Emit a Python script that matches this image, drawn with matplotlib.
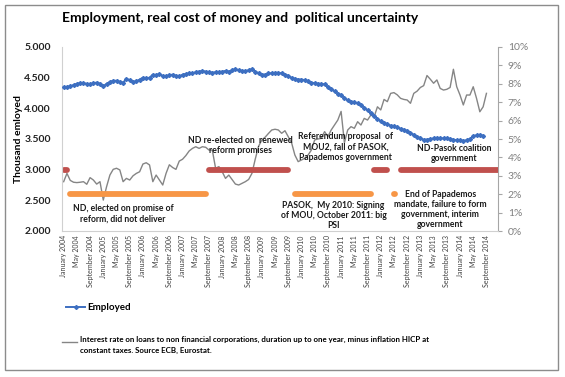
import numpy as np
import pandas as pd
import matplotlib
matplotlib.use('Agg')
import matplotlib.pyplot as plt
from matplotlib.lines import Line2D
from matplotlib.patches import Rectangle

plt.rcParams['font.family'] = ['Lato', 'DejaVu Sans']

# monthly categories Jan 2004 - Dec 2014
months = pd.date_range('2004-01-01', '2014-12-01', freq='MS')
tick_labels = [d.strftime('%B %Y') for d in months[::4]]

# employed, thousand (Jan 2004 - Aug 2014)
employed = [4.34, 4.35, 4.36, 4.38, 4.40, 4.41, 4.41, 4.40, 4.39, 4.41,
            4.42, 4.40, 4.36, 4.40, 4.43, 4.45, 4.45, 4.43, 4.42, 4.48,
            4.46, 4.43, 4.44, 4.47, 4.50, 4.49, 4.50, 4.55, 4.54, 4.56,
            4.53, 4.52, 4.54, 4.55, 4.53, 4.52, 4.55, 4.56, 4.57, 4.57,
            4.59, 4.60, 4.61, 4.60, 4.59, 4.58, 4.59, 4.59, 4.60, 4.61,
            4.60, 4.62, 4.64, 4.62, 4.61, 4.61, 4.62, 4.64, 4.60, 4.57,
            4.55, 4.55, 4.57, 4.57, 4.58, 4.58, 4.57, 4.55, 4.53, 4.50,
            4.48, 4.47, 4.47, 4.46, 4.44, 4.42, 4.41, 4.40, 4.40, 4.39,
            4.35, 4.31, 4.28, 4.24, 4.21, 4.17, 4.13, 4.11, 4.10, 4.08,
            4.05, 4.01, 3.97, 3.92, 3.88, 3.83, 3.79, 3.76, 3.74, 3.72,
            3.71, 3.69, 3.67, 3.65, 3.63, 3.60, 3.57, 3.53, 3.51, 3.49,
            3.49, 3.50, 3.51, 3.52, 3.51, 3.51, 3.51, 3.50, 3.49, 3.48,
            3.48, 3.47, 3.48, 3.50, 3.55, 3.56, 3.57, 3.55]

# real interest rate, % (Jan 2004 - Sep 2014)
interest = [2.68, 3.13, 2.75, 2.65, 2.63, 2.65, 2.68, 2.54, 2.90, 2.77,
            2.55, 2.68, 1.68, 2.41, 3.04, 3.35, 3.41, 3.32, 2.68, 2.86,
            2.77, 3.00, 3.13, 3.22, 3.64, 3.71, 3.59, 2.68, 3.04, 2.77,
            2.50, 3.13, 3.60, 3.45, 3.35, 3.80, 3.90, 4.10, 4.35, 4.49,
            4.58, 4.49, 4.58, 4.55, 4.40, 4.40, 3.41, 3.50, 3.22, 2.86,
            3.04, 2.80, 2.55, 2.50, 2.59, 2.68, 2.80, 3.13, 3.90, 4.60,
            4.95, 5.10, 5.30, 5.49, 5.53, 5.49, 5.31, 5.45, 5.13, 4.80,
            4.13, 3.77, 3.86, 3.95, 4.13, 4.40, 4.95, 5.00, 5.04, 5.40,
            5.13, 5.49, 5.76, 6.03, 6.50, 4.80, 5.49, 5.67, 5.58, 5.94,
            5.76, 6.12, 6.03, 6.30, 6.21, 6.75, 6.58, 7.15, 7.03, 7.48,
            7.52, 7.40, 7.21, 7.15, 7.12, 6.94, 7.48, 7.60, 7.80, 7.90,
            8.45, 8.25, 8.03, 8.21, 7.75, 7.66, 7.70, 7.80, 8.79, 7.84,
            7.39, 6.85, 7.39, 7.39, 7.84, 7.21, 6.48, 6.75, 7.48]

# political periods, month index (start, end)
govt_level = 3.0
govt_periods = [(0, 1), (44, 68), (94, 98), (102, 132)]
unc_level = 2.6
unc_periods = [(2, 43), (70, 93), (100, 100.4)]

x_emp = np.arange(len(employed))
x_int = np.arange(len(interest))

fig = plt.figure(figsize=(5.65, 3.77), dpi=100)
ax = fig.add_axes([62/565, 1-231/377, 436/565, 184/377])
ax2 = ax.twinx()

red = '#C0504D'
orange = '#F79646'
for a, b in govt_periods:
    ax.plot([a, b], [govt_level, govt_level], color=red, lw=4.2,
            solid_capstyle='round', zorder=2)
for a, b in unc_periods:
    ax.plot([a, b], [unc_level, unc_level], color=orange, lw=4.2,
            solid_capstyle='round', zorder=2)

ax.plot(x_emp, employed, color='#3D6FC1', lw=1.4, marker='D', ms=2.0,
        zorder=4)
ax2.plot(x_int, interest, color='#858585', lw=1.0, zorder=3)

ax.set_xlim(-0.5, len(months) - 0.5)
ax.set_ylim(2.0, 5.0)
ax2.set_ylim(0, 10)
ax.set_yticks(np.arange(2.0, 5.01, 0.5))
ax.set_yticklabels([f'{v:.3f}' for v in np.arange(2.0, 5.01, 0.5)],
                   fontsize=7.5, fontweight='bold', color='#222222')
ax2.set_yticks(range(0, 11))
ax2.set_yticklabels([f'{v}%' for v in range(0, 11)], fontsize=7.5,
                    color='#7F7F7F')
ax.set_xticks(np.arange(0, len(months), 4))
ax.set_xticklabels(tick_labels, rotation=90, fontsize=5, color='#404040')
ax.tick_params(axis='x', length=0, pad=3)
ax.tick_params(axis='y', length=0, pad=8)
ax2.tick_params(axis='y', length=3, color='#A6A6A6', pad=4)

for s in ['top']:
    ax.spines[s].set_visible(False)
    ax2.spines[s].set_visible(False)
ax.spines['right'].set_visible(False)
ax.spines['left'].set_color('#D0D0D0')
ax.spines['bottom'].set_color('#D0D0D0')
ax2.spines['left'].set_visible(False)
ax2.spines['bottom'].set_visible(False)
ax2.spines['right'].set_color('#A6A6A6')

ax.set_ylabel('Thousand emloyed', fontsize=7.5, fontweight='bold')
ax.yaxis.set_label_coords(-(62 - 23) / 436, 0.5)

ax.set_zorder(ax2.get_zorder() + 1)
ax.patch.set_visible(False)

# annotations
tk = dict(fontsize=6.2, fontweight='bold', color='#1A1A1A', ha='center',
          va='center', linespacing=1.15, zorder=5)
ax.text(18, 2.28, 'ND, elected on promise of\nreform, did not deliver', **tk)
ax.text(53.5, 3.40, 'ND re-elected on  renewed\nreform promises', **tk)
ax.text(85.3, 3.37, 'Referendum proposal  of\nMOU2, fall of PASOK,\nPapademos government', **tk)
ax.text(118.2, 3.26, 'ND-Pasok coalition\ngovernment', **tk)
ax.text(81.7, 2.25, 'PASOK,  My 2010: Signing\nof MOU, October 2011: big\nPSI', **tk)
ax.text(114, 2.35, 'End of Papademos\nmandate, failure to form\ngovernment, interim\ngovernment', **tk)

fig.text(240/565, 1-18/377, 'Employment, real cost of money and  political uncertainty',
         fontsize=10, fontweight='bold', ha='center', va='center')

# legend
fig.add_artist(Line2D([66/565, 85/565], [1-307/377, 1-307/377], color='#3D6FC1',
                      lw=1.4, transform=fig.transFigure))
fig.add_artist(Line2D([75.5/565], [1-307/377], color='#3D6FC1', marker='D', ms=2.0,
                      transform=fig.transFigure))
fig.text(87/565, 1-307/377, 'Employed', fontsize=7, fontweight='bold',
         va='center', ha='left')
fig.add_artist(Line2D([62/565, 77/565], [1-342/377, 1-342/377], color='#858585',
                      lw=1.0, transform=fig.transFigure))
fig.text(80/565, 1-336/377,
         'Interest rate on loans to non financial corporations, duration up to one year, minus inflation HICP at\nconstant taxes. Source ECB, Eurostat.',
         fontsize=5.7, fontweight='bold', va='top', ha='left', linespacing=1.55)

fig.add_artist(Rectangle((5/565, 1-370/377), 553/565, 365/377, fill=False,
                         edgecolor='#8C8C8C', lw=1.0, transform=fig.transFigure))

fig.savefig('out.png', dpi=100)
